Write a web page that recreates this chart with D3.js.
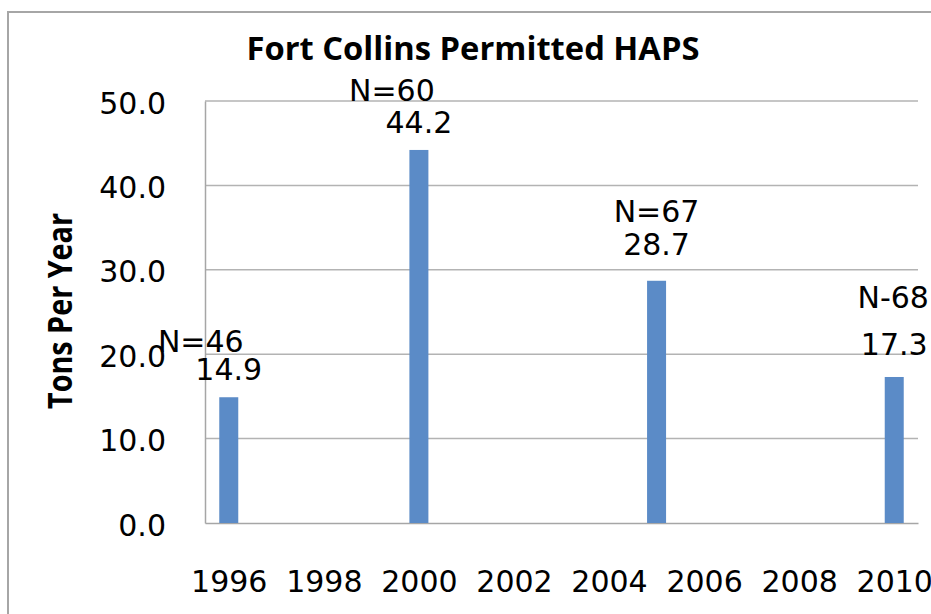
<!DOCTYPE html>
<html>
<head>
<meta charset="utf-8">
<script src="https://cdn.jsdelivr.net/npm/d3@7"></script>
<style>
  body { margin: 0; background: #fff; }
  svg { display: block; }
</style>
</head>
<body>
<div id="chart"></div>
<script>
// dados do gráfico
const years = [1996, 2000, 2005, 2010];
const tons = [14.9, 44.2, 28.7, 17.3];
const countLabels = ['N=46', 'N=60', 'N=67', 'N-68'];
const valueLabels = ['14.9', '44.2', '28.7', '17.3'];
const xTicks = [1996, 1998, 2000, 2002, 2004, 2006, 2008, 2010];
const yTicks = [0, 10, 20, 30, 40, 50];

// ajustes manuais das caixas de texto (como no original)
const valueDy = [-17, -17, -26, -22];
const countGap = [28, 32, 33, 47];
const countDx = [-28, -27, 0, -1];

const width = 931, height = 614;
const margin = { left: 205, right: 13, top: 101, bottom: 91 };

const svg = d3.select('#chart').append('svg')
    .attr('width', width)
    .attr('height', height);

// moldura do gráfico (cortada à direita e embaixo)
svg.append('rect')
    .attr('x', 8).attr('y', 12)
    .attr('width', 1000).attr('height', 1000)
    .attr('fill', 'none')
    .attr('stroke', '#a6a6a6')
    .attr('stroke-width', 2);

const x = d3.scaleLinear()
    .domain([1995.5, 2010.5])
    .range([margin.left, width - margin.right]);

const y = d3.scaleLinear()
    .domain([0, 50])
    .range([height - margin.bottom, margin.top]);

// linhas de grade
svg.append('g')
    .selectAll('line')
    .data(yTicks.filter(d => d > 0))
    .enter().append('line')
    .attr('x1', x.range()[0]).attr('x2', x.range()[1])
    .attr('y1', d => y(d)).attr('y2', d => y(d))
    .attr('stroke', '#b3b3b3')
    .attr('stroke-width', 1.5);

// eixo Y
const yAxis = svg.append('g')
    .attr('transform', `translate(${margin.left},0)`)
    .call(d3.axisLeft(y).tickValues(yTicks).tickFormat(d3.format('.1f')).tickSize(0).tickPadding(39));
yAxis.select('.domain').attr('stroke', '#a6a6a6').attr('stroke-width', 1.5);
yAxis.selectAll('text')
    .attr('dy', 12)
    .style('font-family', 'DejaVu Sans, sans-serif')
    .style('font-size', '30px')
    .attr('fill', '#000');

// eixo X
const xAxis = svg.append('g')
    .attr('transform', `translate(0,${y(0)})`)
    .call(d3.axisBottom(x).tickValues(xTicks).tickFormat(d3.format('d')).tickSize(0).tickPadding(0));
xAxis.select('.domain').attr('stroke', '#a6a6a6').attr('stroke-width', 1.5);
xAxis.selectAll('text')
    .attr('y', 69).attr('dy', 0)
    .style('font-family', 'DejaVu Sans, sans-serif')
    .style('font-size', '30px')
    .attr('fill', '#000');

// barras
const barW = 19;
svg.append('g')
    .selectAll('rect')
    .data(years)
    .enter().append('rect')
    .attr('x', d => x(d) - barW / 2)
    .attr('y', (d, i) => y(tons[i]))
    .attr('width', barW)
    .attr('height', (d, i) => y(0) - y(tons[i]))
    .attr('fill', '#5b8bc7');

// rótulos de valor
const labels = svg.append('g')
    .style('font-family', 'DejaVu Sans, sans-serif')
    .style('font-size', '30px')
    .attr('text-anchor', 'middle');

labels.selectAll('.valor')
    .data(years)
    .enter().append('text')
    .attr('class', 'valor')
    .attr('x', d => x(d))
    .attr('y', (d, i) => y(tons[i]) + valueDy[i])
    .text((d, i) => valueLabels[i]);

labels.selectAll('.n')
    .data(years)
    .enter().append('text')
    .attr('class', 'n')
    .attr('x', (d, i) => x(d) + countDx[i])
    .attr('y', (d, i) => y(tons[i]) + valueDy[i] - countGap[i])
    .text((d, i) => countLabels[i]);

// título
svg.append('text')
    .attr('x', 473).attr('y', 60)
    .attr('text-anchor', 'middle')
    .attr('textLength', 453)
    .attr('lengthAdjust', 'spacingAndGlyphs')
    .style('font-family', 'Open Sans, sans-serif')
    .style('font-weight', 'bold')
    .style('font-size', '33px')
    .text('Fort Collins Permitted HAPS');

// título do eixo Y
svg.append('text')
    .attr('transform', 'translate(72,311) rotate(-90)')
    .attr('text-anchor', 'middle')
    .attr('textLength', 196)
    .attr('lengthAdjust', 'spacingAndGlyphs')
    .style('font-family', 'Open Sans, sans-serif')
    .style('font-weight', 'bold')
    .style('font-size', '34px')
    .text('Tons Per Year');
</script>
</body>
</html>
